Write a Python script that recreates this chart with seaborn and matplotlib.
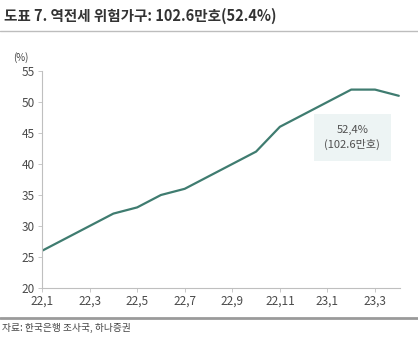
import matplotlib
matplotlib.use("Agg")
import matplotlib.pyplot as plt
import seaborn as sns
import pandas as pd

months = ["22,1", "22,2", "22,3", "22,4", "22,5", "22,6", "22,7", "22,8",
          "22,9", "22,10", "22,11", "22,12", "23,1", "23,2", "23,3", "23,4"]
share = [26, 28, 30, 32, 33, 35, 36, 38, 40, 42, 46, 48, 50, 52, 52, 51]
tick_labels = ["22,1", "22,3", "22,5", "22,7", "22,9", "22,11", "23,1", "23,3"]
y_ticks = [20, 25, 30, 35, 40, 45, 50, 55]

title = "도표 7. 역전세 위험가구: 102.6만호(52.4%)"
note = "52,4%\n(102.6만호)"
source = "자료: 한국은행 조사국, 하나증권"

sns.set_theme(style="white")
plt.rcParams['font.family'] = ['Noto Sans CJK KR', 'DejaVu Sans']

df = pd.DataFrame({"idx": range(len(months)), "month": months, "share": share})

fig = plt.figure(figsize=(4.18, 3.43), dpi=100)
ax = fig.add_axes([42/418, 55/343, 358/418, 217/343])

sns.lineplot(data=df, x="idx", y="share", ax=ax, color="#3f7c70", linewidth=1.6)

ax.set_xlim(0, 15.05)
ax.set_ylim(20, 55)
ax.set_yticks(y_ticks)
ax.set_yticklabels([str(v) for v in y_ticks])
tick_pos = [months.index(t) for t in tick_labels]
ax.set_xticks(tick_pos)
ax.set_xticklabels(tick_labels)
ax.set_xlabel("")
ax.set_ylabel("")
for s in ["top", "right"]:
    ax.spines[s].set_visible(False)
for s in ["left", "bottom"]:
    ax.spines[s].set_color("#bfbfbf")
    ax.spines[s].set_linewidth(0.8)
ax.tick_params(axis="both", labelsize=8.5, colors="#4a4a4a", length=3, width=0.6,
               color="#bfbfbf", pad=2, left=True, bottom=True)
ax.grid(False)

ax.text(-0.06, 1.035, "(%)", transform=ax.transAxes, fontsize=7, color="#404040",
        ha="center", va="bottom")

ax.text(13.05, 44.3, note, ha="center", va="center", fontsize=8, color="#505050",
        linespacing=1.5,
        bbox=dict(boxstyle="square,pad=0.95", facecolor="#edf4f4", edgecolor="none"))

fig.text(4/418, 1 - 16/343, title, fontsize=10.5, fontweight="bold", color="#333333",
         ha="left", va="center")
fig.add_artist(plt.Line2D([0, 1], [1 - 31/343, 1 - 31/343], color="#bdbdbd", linewidth=1.0,
                          transform=fig.transFigure))
fig.add_artist(plt.Line2D([0, 1], [1 - 318/343, 1 - 318/343], color="#9a9a9a", linewidth=2.0,
                          transform=fig.transFigure))
fig.text(2/418, 1 - 328/343, source, fontsize=7, color="#444444", ha="left", va="center")

fig.savefig("out.png", dpi=100)
